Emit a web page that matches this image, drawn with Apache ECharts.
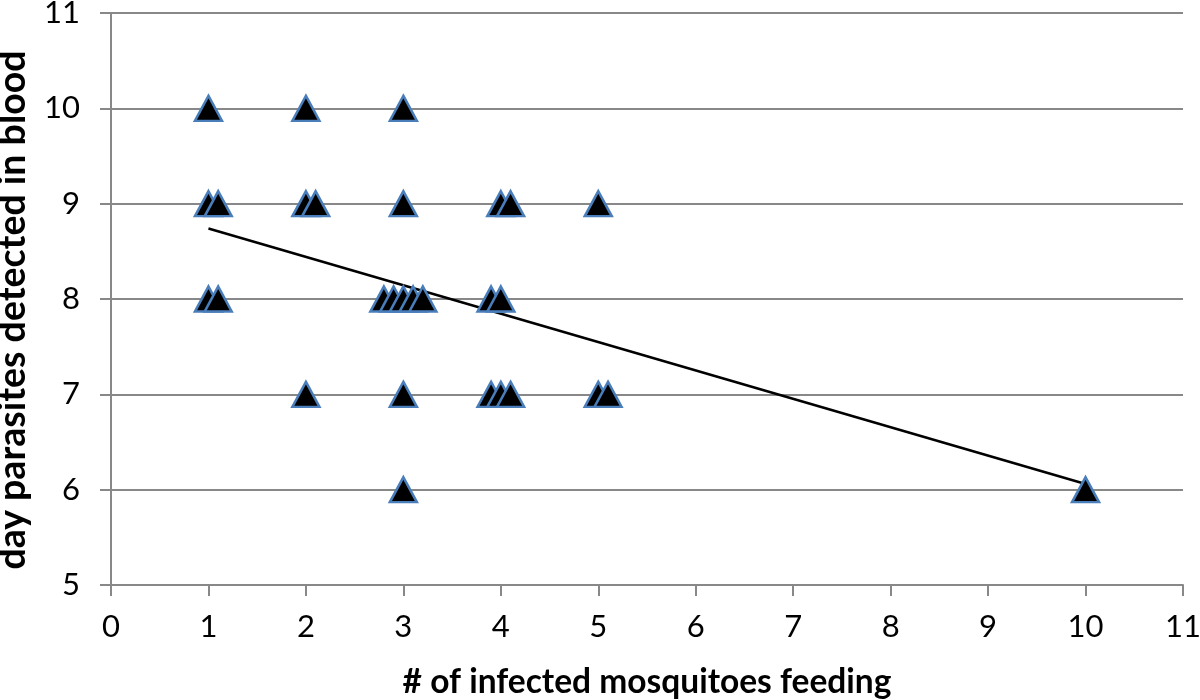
<!DOCTYPE html>
<html>
<head>
<meta charset="utf-8">
<script src="https://cdn.jsdelivr.net/npm/echarts@6/dist/echarts.min.js"></script>
<style>html,body{margin:0;padding:0;background:#fff}#c{width:1200px;height:700px}</style>
</head>
<body>
<div id="c"></div>
<script>
const mosquitoes = [1, 2, 3, 1, 1.1, 2, 2.1, 3, 4, 4.1, 5, 1, 1.1, 2.8, 2.9, 3, 3.1, 3.2, 3.9, 4, 2, 3, 3.9, 4, 4.1, 5, 5.1, 3, 10];
const dayDetected = [10, 10, 10, 9, 9, 9, 9, 9, 9, 9, 9, 8, 8, 8, 8, 8, 8, 8, 8, 8, 7, 7, 7, 7, 7, 7, 7, 6, 6];
const trendX = [1, 10];
const trendY = [8.74, 6.06];
const xTicks = [0, 11, 1];
const yTicks = [5, 11, 1];

const chart = echarts.init(document.getElementById('c'));
const font = 'Lato, "Open Sans", sans-serif';
chart.setOption({
  animation: false,
  backgroundColor: '#fff',
  grid: { left: 111, right: 17, top: 13, bottom: 115, outerBoundsMode: 'none', containLabel: false },
  xAxis: {
    type: 'value', min: xTicks[0], max: xTicks[1], interval: xTicks[2],
    name: '# of infected mosquitoes feeding',
    nameLocation: 'middle', nameGap: 80,
    nameTextStyle: { fontFamily: font, fontWeight: 'bold', fontSize: 33.5, color: '#000' },
    axisLine: { lineStyle: { color: '#888', width: 2 } },
    axisTick: { show: true, length: 11, inside: false, lineStyle: { color: '#888', width: 2 } },
    axisLabel: { fontFamily: font, fontSize: 31, color: '#000', margin: 26 },
    splitLine: { show: false }
  },
  yAxis: {
    type: 'value', min: yTicks[0], max: yTicks[1], interval: yTicks[2],
    name: 'day parasites detected in blood',
    nameLocation: 'middle', nameGap: 79,
    nameTextStyle: { fontFamily: font, fontWeight: 'bold', fontSize: 37.5, color: '#000', padding: [0, 22, 0, 0] },
    axisLine: { show: true, lineStyle: { color: '#888', width: 2 } },
    axisTick: { show: true, length: 11, lineStyle: { color: '#888', width: 2 } },
    axisLabel: { fontFamily: font, fontSize: 31, color: '#000', margin: 31 },
    splitLine: { show: true, lineStyle: { color: '#888', width: 2 } }
  },
  series: [
    {
      type: 'line',
      data: trendX.map((x, i) => [x, trendY[i]]),
      showSymbol: false, symbol: 'none',
      lineStyle: { color: '#000', width: 2.5 },
      z: 3
    },
    {
      type: 'scatter',
      data: mosquitoes.map((x, i) => [x, dayDetected[i]]),
      symbol: 'triangle',
      symbolSize: [27, 25],
      itemStyle: { color: '#000', borderColor: '#4a7ebb', borderWidth: 2.5, opacity: 1 },
      z: 4
    }
  ]
});
</script>
</body>
</html>
